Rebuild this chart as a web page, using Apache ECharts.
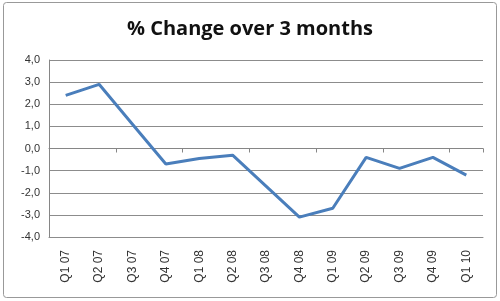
<!DOCTYPE html>
<html>
<head>
<meta charset="utf-8">
<script src="https://cdn.jsdelivr.net/npm/echarts@6/dist/echarts.min.js"></script>
<style>html,body{margin:0;padding:0;background:#fff}#c{width:500px;height:301px}</style>
</head>
<body>
<div id="c"></div>
<script>
const categories = ['Q1 07','Q2 07','Q3 07','Q4 07','Q1 08','Q2 08','Q3 08','Q4 08','Q1 09','Q2 09','Q3 09','Q4 09','Q1 10'];
const values = [2.4, 2.9, 1.1, -0.7, -0.45, -0.3, -1.7, -3.1, -2.7, -0.4, -0.9, -0.4, -1.2];
const titleText = '% Change over 3 months';
const yMin = -4, yMax = 4, yStep = 1;

const chart = echarts.init(document.getElementById('c'), null, {renderer: 'canvas'});
chart.setOption({
  animation: false,
  backgroundColor: '#fff',
  title: {
    text: titleText, left: 'center', top: 14,
    textStyle: {fontFamily: 'Open Sans', fontWeight: 'bold', fontSize: 20, color: '#111'}
  },
  graphic: [{
    type: 'rect', shape: {x: 3.5, y: 2.5, width: 493, height: 295, r: 3},
    style: {fill: 'none', stroke: '#999', lineWidth: 1}, silent: true, z: -1
  }],
  grid: {left: 49, right: 17, top: 60, bottom: 64},
  xAxis: [{
    type: 'category', data: categories, boundaryGap: true,
    axisLine: {onZero: true, lineStyle: {color: '#868686', width: 1}},
    axisTick: {show: true, length: 4, inside: false, lineStyle: {color: '#868686'}},
    axisLabel: {show: false}, splitLine: {show: false}
  }, {
    type: 'category', data: categories, boundaryGap: true, position: 'bottom',
    axisLine: {onZero: false, lineStyle: {color: '#8c8c8c', width: 1}},
    axisTick: {show: false},
    axisLabel: {show: true, rotate: 90, margin: 13, fontFamily: 'Liberation Sans', fontSize: 12, color: '#333', interval: 0}
  }],
  yAxis: {
    type: 'value', min: yMin, max: yMax, interval: yStep,
    axisLine: {show: true, lineStyle: {color: '#868686'}},
    axisTick: {show: false},
    splitLine: {show: true, lineStyle: {color: '#8c8c8c', width: 1}},
    axisLabel: {margin: 9, fontFamily: 'Liberation Sans', fontSize: 11, color: '#333',
      formatter: v => v.toFixed(1).replace('.', ',')}
  },
  series: [{
    type: 'line', xAxisIndex: 0, data: values, showSymbol: false, symbol: 'none',
    lineStyle: {color: '#4A7EBB', width: 3}
  }]
});
</script>
</body>
</html>
